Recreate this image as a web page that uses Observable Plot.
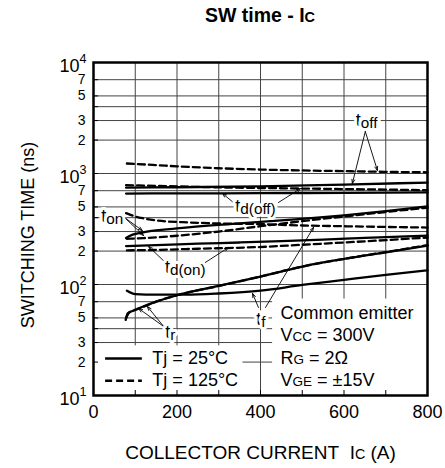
<!DOCTYPE html>
<html><head><meta charset="utf-8">
<script src="https://cdn.jsdelivr.net/npm/d3@7"></script>
<script src="https://cdn.jsdelivr.net/npm/@observablehq/plot@0.6"></script>
<style>
body{margin:0;background:#fff;font-family:"Liberation Sans",Arial,sans-serif;}
#title{height:40px;box-sizing:border-box;padding:0 18px 0 93px;text-align:center;font-weight:bold;font-size:19.5px;line-height:30px;color:#000;}
#title span{font-size:14.5px;}
</style></head><body>
<div id="title">SW time - I<span>C</span></div>
<div id="chart"></div>
<script>
// ---- data (collector current A, switching time ns) ----
const toff25  = [[78,745],[200,752],[400,766],[600,795],[800,828]];
const toff125 = [[80,1230],[150,1190],[200,1160],[300,1115],[400,1085],[500,1065],[600,1050],[700,1035],[800,1025]];
const tdoff25 = [[78,660],[200,662],[400,665],[600,670],[800,676]];
const tdoff125= [[78,785],[200,765],[300,750],[400,740],[500,732],[600,724],[700,716],[800,708]];
const ton25   = [[78,262],[85,272],[113,292],[200,320],[350,355],[500,390],[600,420],[700,458],[800,505]];
const ton125  = [[80,258],[120,262],[200,275],[300,300],[400,335],[500,372],[600,410],[700,450],[800,492]];
const tdon25  = [[78,222],[150,226],[250,233],[350,239],[450,246],[550,254],[650,263],[800,276]];
const tdon125 = [[80,203],[150,205],[250,210],[390,217],[500,228],[600,239],[700,251],[800,265]];
const tr25    = [[77,48],[82,55],[95,58],[113,62],[150,70],[200,80],[300,97],[400,118],[500,145],[600,170],[700,195],[800,224]];
const tr125   = [[78,50],[86,56],[100,59],[120,63],[150,70],[200,80],[300,97],[400,118],[500,145],[600,170],[700,196],[800,226]];
const tf25    = [[80,88],[100,82],[150,81],[220,81],[300,83],[400,88],[500,99],[600,110],[700,122],[800,134]];
const tf125   = [[78,440],[100,410],[120,394],[150,378],[230,362],[300,355],[400,350],[500,340],[600,335],[700,330],[800,326]];

const xTicks = [0,200,400,600,800];
const xGrid = [100,200,300,400,500,600,700];
const yDecades = [10,100,1000,10000];
const yMinor = [20,30,50,70,200,300,500,700,2000,3000,5000,7000];
const yGrid = [20,30,40,50,70,100,200,300,400,500,700,1000,2000,3000,4000,5000,7000];

// annotation labels and leader arrows (data units)
const labels = [
  {text:"t_{off}", x:654, y:3000},
  {text:"t_{d(off)}", x:388, y:505},
  {text:"t_{on}", x:45, y:414},
  {text:"t_{d(on)}", x:220, y:142},
  {text:"t_{r}", x:184, y:37},
  {text:"t_{f}", x:401, y:48.4}
];
const arrows = [
  {x1:651,y1:2388,x2:620,y2:813},{x1:651,y1:2388,x2:680,y2:1065},
  {x1:335,y1:548,x2:309,y2:661},{x1:443,y1:548,x2:496,y2:733},
  {x1:74,y1:402,x2:117,y2:306},{x1:74,y1:402,x2:120,y2:276},
  {x1:172,y1:158,x2:132,y2:220},{x1:268,y1:158,x2:323,y2:215},
  {x1:168,y1:41.9,x2:108,y2:60.8},{x1:168,y1:41.9,x2:129,y2:63.4},
  {x1:395,y1:62.1,x2:381,y2:83},{x1:412,y1:62.1,x2:527,y2:327}
];
const legendItems = [
  {text:"Tj = 25°C", y:21.5, dashed:false},
  {text:"Tj = 125°C", y:13.6, dashed:true}
];
const legendSample = {x1:29, x2:117, xText:141};
const conditions = [
  {text:"Common emitter", y:54.8},
  {text:"V~{CC} = 300V", y:34.8},
  {text:"R~{G} = 2Ω", y:21.5},
  {text:"V~{GE} = ±15V", y:13.6}
];
const conditionX = 448;
const boxes = [{x1:0,x2:358,y1:10,y2:28},{x1:429,x2:800,y1:10,y2:74}];

const series = [
  ["toff",25,toff25],["toff",125,toff125],["tdoff",25,tdoff25],["tdoff",125,tdoff125],
  ["ton",25,ton25],["ton",125,ton125],["tdon",25,tdon25],["tdon",125,tdon125],
  ["tr",25,tr25],["tr",125,tr125],["tf",25,tf25],["tf",125,tf125]
];
const rows = series.flatMap(([name,tj,pts]) => pts.map(([I,t]) => ({key:name+tj, tj, I, t})));

const FS = 18;
const W = 445, H = 428, mt = 22, mb = 73, ml = 93, mr = 18;
const fw = W-ml-mr, fh = H-mt-mb;

const decadeFmt = d => "|{10}^{" + Math.round(Math.log10(d)) + "}";
const minorFmt = d => String(Math.round(d / Math.pow(10, Math.floor(Math.log10(d) + 1e-9))));

const svg = Plot.plot({
  width: W, height: H,
  marginTop: mt, marginBottom: mb, marginLeft: ml, marginRight: mr,
  style: {fontFamily: '"Liberation Sans", Arial, sans-serif', fontSize: FS+"px", background: "white", color: "black", overflow: "visible"},
  x: {domain: [0,800]},
  y: {type: "log", domain: [10,10000], axis: null},
  marks: [
    Plot.ruleY(yGrid, {y: d=>d, stroke: "#444", strokeWidth: 1}),
    Plot.ruleX(xGrid, {x: d=>d, stroke: "#444", strokeWidth: 1}),
    Plot.rect(boxes, {x1:"x1", x2:"x2", y1:"y1", y2:"y2", fill: "white"}),
    Plot.tickX(xGrid, {x: d=>d, insetTop: fh-5, stroke: "black", strokeWidth: 1}),
    Plot.tickY(yGrid, {y: d=>d, insetRight: fw-5, stroke: "black", strokeWidth: 1}),
    Plot.line(rows.filter(d=>d.tj===25), {x:"I", y:"t", z:"key", curve:"monotone-x", stroke:"black", strokeWidth:2.3}),
    Plot.line(rows.filter(d=>d.tj===125), {x:"I", y:"t", z:"key", curve:"monotone-x", stroke:"black", strokeWidth:2.3, strokeDasharray:"7,4"}),
    Plot.arrow(arrows, {x1:"x1", y1:"y1", x2:"x2", y2:"y2", stroke:"black", strokeWidth:0.9, headLength:7, headAngle:40}),
    Plot.text(labels, {x:"x", y:"y", text:"text", fontSize:FS, fill:"black", stroke:"white", strokeWidth:6}),
    Plot.ruleY(legendItems.filter(d=>!d.dashed), {y:"y", x1:legendSample.x1, x2:legendSample.x2, stroke:"black", strokeWidth:2.5}),
    Plot.ruleY(legendItems.filter(d=>d.dashed), {y:"y", x1:legendSample.x1, x2:legendSample.x2, stroke:"black", strokeWidth:2.5, strokeDasharray:"7,4"}),
    Plot.text(legendItems, {x:legendSample.xText, y:"y", text:"text", textAnchor:"start", fontSize:FS, fill:"black"}),
    Plot.text(conditions, {x:conditionX, y:"y", text:"text", textAnchor:"start", fontSize:FS, fill:"black"}),
    Plot.frame({stroke:"black", strokeWidth:2.5}),
    Plot.axisX(xTicks, {tickSize:0, tickPadding:10, fontSize:FS, label:null}),
    Plot.text(yDecades, {frameAnchor:"left", y:d=>d, text:decadeFmt, textAnchor:"end", lineAnchor:"middle", dx:-7, fontSize:FS, fill:"black"}),
    Plot.text(yMinor, {frameAnchor:"left", y:d=>d, text:minorFmt, textAnchor:"end", lineAnchor:"middle", dx:-8, fontSize:14, fill:"black"}),
    Plot.text(["COLLECTOR CURRENT\u00a0 I~{C} (A)"], {frameAnchor:"bottom", textAnchor:"middle", lineAnchor:"middle", dy:57, fontSize:19, fill:"black"}),
    Plot.text(["SWITCHING TIME (ns)"], {frameAnchor:"left", textAnchor:"middle", lineAnchor:"middle", rotate:-90, dx:-65, dy:6, fontSize:FS, fill:"black"})
  ]
});
document.getElementById("chart").appendChild(svg);

// rich text: _{sub}  ^{sup}  ~{small caps}  |{lowered}
function markup(root){
  d3.select(root).selectAll("text").each(function(){
    const el = this;
    const s = el.textContent;
    if (!/[_^~|]\{/.test(s)) return;
    const parts = []; let last = 0, m; const re = /([_^~|])\{([^}]*)\}/g;
    while ((m = re.exec(s))) { if (m.index > last) parts.push(["n", s.slice(last, m.index)]); parts.push([m[1], m[2]]); last = re.lastIndex; }
    if (last < s.length) parts.push(["n", s.slice(last)]);
    const fs = parseFloat(getComputedStyle(el).fontSize) || FS;
    while (el.firstChild) el.removeChild(el.firstChild);
    let shift = 0;
    for (const [k,t] of parts) {
      const ts = document.createElementNS("http://www.w3.org/2000/svg", "tspan");
      let target = 0, size = null;
      if (k === "_") { target = 0.1*fs; size = 0.85*fs; }
      else if (k === "^") { target = -0.3*fs; size = 0.7*fs; }
      else if (k === "~") { size = 0.75*fs; }
      else if (k === "|") { target = 0.22*fs; }
      if (size) ts.setAttribute("font-size", size);
      if (target - shift !== 0) ts.setAttribute("dy", target - shift);
      shift = target;
      ts.textContent = t;
      el.appendChild(ts);
    }
  });
}
markup(svg);
</script>
</body></html>
